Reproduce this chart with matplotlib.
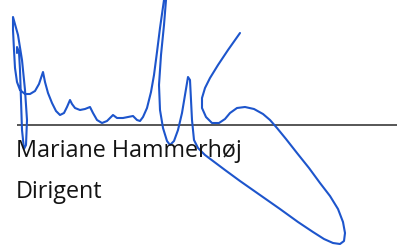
import matplotlib
matplotlib.use("Agg")
import matplotlib.pyplot as plt

# signature stroke, pixel coords of the 397x245 picture (y down)
sig_x = [17, 17, 19, 20, 21, 22, 24, 26, 27, 25, 22, 18, 13,
         13, 14, 15, 17, 20, 25, 30, 35, 39, 43,
         45, 48, 52, 56, 60, 64, 67, 70, 72, 75, 80, 85, 90, 93, 97, 102, 107, 113,
         117, 123, 128, 133, 137, 140, 143, 147, 151, 154, 157, 160, 164,
         166, 164, 161, 159, 160, 163, 167, 170, 174, 178, 182, 185, 188, 190, 191, 192, 194,
         198, 205, 213, 225, 240, 260, 280, 298, 313, 324, 333, 340, 344, 345, 343, 338,
         330, 320, 309, 297, 286, 277, 270, 263, 254, 245, 237, 230, 225, 219, 212, 206,
         202, 202, 205, 210, 218, 228, 240]
sig_y = [53, 47, 52, 70, 100, 130, 149, 145, 120, 90, 60, 35, 17,
         30, 50, 68, 82, 90, 94, 94, 91, 84, 72,
         82, 93, 103, 111, 115, 113, 107, 100, 104, 108, 110, 109, 107, 113, 120, 123, 121, 115,
         118, 118, 117, 116, 120, 121, 117, 108, 92, 75, 52, 28, 0,
         0, 25, 55, 85, 110, 128, 141, 145, 141, 130, 113, 95, 77, 80, 100, 120, 140,
         148, 155, 161, 170, 181, 195, 209, 222, 232, 239, 243, 244, 241, 233, 222, 209,
         196, 183, 168, 153, 139, 128, 120, 114, 109, 107, 108, 113, 119, 123, 123, 117,
         108, 98, 88, 78, 65, 50, 33]

rule_y = 125
rule_x = [17, 397]

name = "Mariane Hammerhøj"
title = "Dirigent"

fig = plt.figure(figsize=(3.97, 2.45), dpi=100)
ax = fig.add_axes([0, 0, 1, 1])
ax.set_xlim(0, 397)
ax.set_ylim(245, 0)
ax.axis("off")

ax.plot(rule_x, [rule_y, rule_y], color="#3a3a3a", lw=1.2, solid_capstyle="butt")

ax.text(16, 157, name, fontsize=16.8, family="Open Sans", color="#141414", va="baseline", ha="left")
ax.text(16, 198, title, fontsize=16.8, family="Open Sans", color="#141414", va="baseline", ha="left")

ax.plot(sig_x, sig_y, color="#1d55cc", lw=1.5, solid_joinstyle="round", solid_capstyle="round")

fig.savefig("out.png", dpi=100)
